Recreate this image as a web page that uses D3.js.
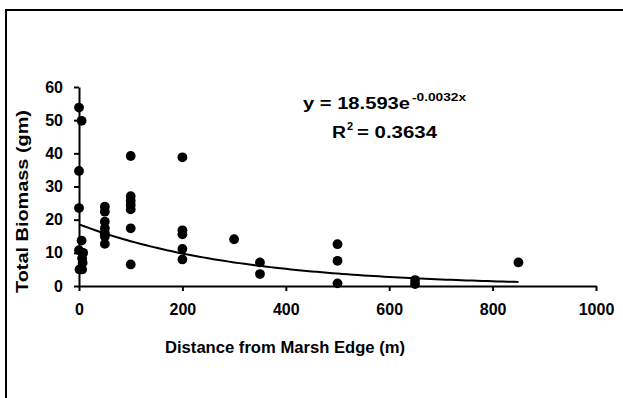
<!DOCTYPE html>
<html>
<head>
<meta charset="utf-8">
<script src="https://cdn.jsdelivr.net/npm/d3@7"></script>
<style>
  html, body { margin: 0; padding: 0; background: #fff; overflow: hidden; }
  svg { display: block; font-family: "Liberation Sans", Arial, sans-serif; font-weight: bold; }
</style>
</head>
<body>
<div class="chart"></div>
<script>
// measured distances (m) and biomass (gm)
var distances = [0, 5, 0, 0, 5, 0, 8, 6, 7, 1, 6,
    50, 50, 50, 50, 50, 50, 50,
    100, 100, 100, 100, 100, 100, 100,
    200, 200, 200, 200, 200,
    300, 350, 350, 500, 500, 500, 650, 650, 850];
var biomass = [53.8, 49.8, 34.7, 23.5, 13.7, 10.8, 10.0, 8.4, 7.0, 5.0, 5.0,
    23.9, 22.4, 19.4, 17.4, 15.9, 14.9, 12.7,
    39.2, 27.1, 25.7, 24.4, 23.1, 17.4, 6.5,
    38.8, 16.8, 15.6, 11.2, 8.0,
    14.1, 7.1, 3.6, 12.6, 7.6, 0.8, 1.8, 0.6, 7.1];
var xTicks = [0, 200, 400, 600, 800, 1000];
var yTicks = [0, 10, 20, 30, 40, 50, 60];
// exponential trendline y = a * e^(b x)
var fitA = 18.593;
var fitB = -0.0032;
var fitRange = [0, 850];

var width = 623;
var height = 398;

var xScale = d3.scaleLinear().domain([0, 1000]).range([79, 596]);
var yScale = d3.scaleLinear().domain([0, 60]).range([286, 87]);

var svg = d3.select('.chart').append('svg')
    .attr('width', width)
    .attr('height', height);

// white background, then outer frame: only top and left edges are inside the picture
svg.append('rect')
    .attr('width', width)
    .attr('height', height)
    .attr('fill', '#fff');
svg.append('path')
    .attr('d', 'M6,' + (height + 2) + 'V10H' + (width + 2))
    .attr('fill', 'none')
    .attr('stroke', '#000')
    .attr('stroke-width', 2);

var xAxis = d3.axisBottom(xScale).tickValues(xTicks).tickFormat(d3.format('d'))
    .tickSize(5).tickSizeOuter(0).tickPadding(13);
var yAxis = d3.axisLeft(yScale).tickValues(yTicks)
    .tickSize(5).tickSizeOuter(0).tickPadding(11);

var gx = svg.append('g')
    .attr('transform', 'translate(0,' + yScale(0) + ')')
    .call(xAxis);
var gy = svg.append('g')
    .attr('transform', 'translate(' + xScale(0) + ',0)')
    .call(yAxis);

[gx, gy].forEach(function(g) {
    g.select('.domain').attr('stroke', '#000').attr('stroke-width', 2);
    g.selectAll('.tick line').attr('stroke', '#000').attr('stroke-width', 2);
    g.selectAll('.tick text')
        .attr('fill', '#000')
        .style('font-family', '"Liberation Sans", Arial, sans-serif')
        .style('font-weight', 'bold')
        .style('font-size', '16px');
});

// points
svg.append('g').selectAll('circle')
    .data(distances)
    .enter()
    .append('circle')
    .attr('cx', function(d) { return xScale(d); })
    .attr('cy', function(d, i) { return yScale(biomass[i]); })
    .attr('r', 4.9)
    .attr('fill', '#000');

// trendline
var fitPoints = d3.range(fitRange[0], fitRange[1] + 1, 10).map(function(x) {
    return [x, fitA * Math.exp(fitB * x)];
});
svg.append('path')
    .datum(fitPoints)
    .attr('fill', 'none')
    .attr('stroke', '#000')
    .attr('stroke-width', 2)
    .attr('d', d3.line()
        .x(function(d) { return xScale(d[0]); })
        .y(function(d) { return yScale(d[1]); }));

// axis titles
svg.append('text')
    .attr('x', 165)
    .attr('y', 353)
    .attr('textLength', 240)
    .attr('lengthAdjust', 'spacingAndGlyphs')
    .style('font-size', '16px')
    .text('Distance from Marsh Edge (m)');

svg.append('text')
    .attr('transform', 'translate(28,293) rotate(-90)')
    .attr('textLength', 183)
    .attr('lengthAdjust', 'spacingAndGlyphs')
    .style('font-size', '16px')
    .text('Total Biomass (gm)');

// equation
svg.append('text')
    .attr('x', 303)
    .attr('y', 109)
    .attr('textLength', 107)
    .attr('lengthAdjust', 'spacingAndGlyphs')
    .style('font-size', '16px')
    .text('y = ' + fitA + 'e');
svg.append('text')
    .attr('x', 412)
    .attr('y', 101)
    .attr('textLength', 54)
    .attr('lengthAdjust', 'spacingAndGlyphs')
    .style('font-size', '11px')
    .text(fitB + 'x');

svg.append('text')
    .attr('x', 332)
    .attr('y', 138)
    .attr('textLength', 14)
    .attr('lengthAdjust', 'spacingAndGlyphs')
    .style('font-size', '16px')
    .text('R');
svg.append('text')
    .attr('x', 347)
    .attr('y', 130)
    .style('font-size', '11px')
    .text('2');
svg.append('text')
    .attr('x', 357)
    .attr('y', 138)
    .attr('textLength', 80)
    .attr('lengthAdjust', 'spacingAndGlyphs')
    .style('font-size', '16px')
    .text('= 0.3634');
</script>
</body>
</html>
